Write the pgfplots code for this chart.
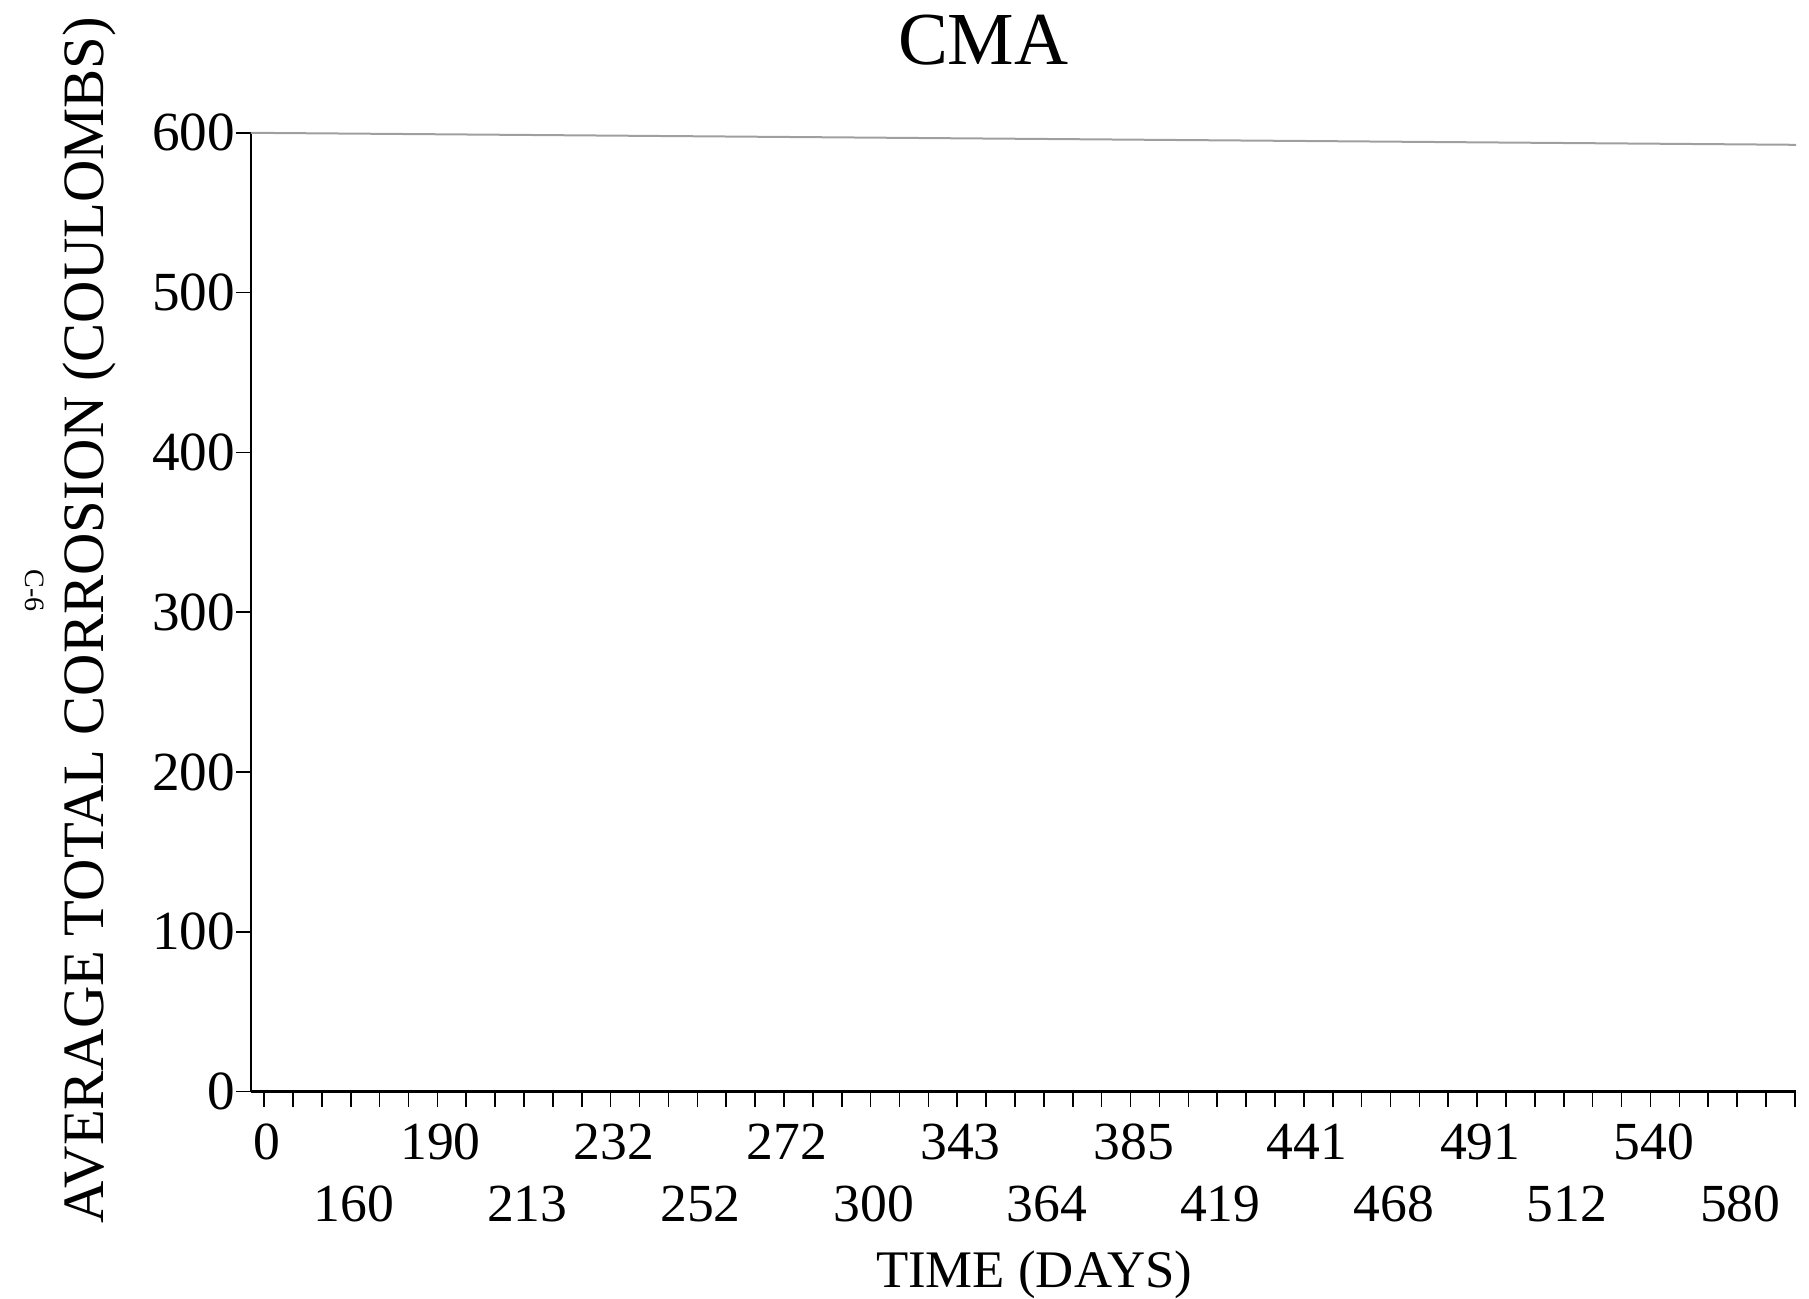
\documentclass[border=0pt]{standalone}
\usepackage{pgfplots}
\pgfplotsset{compat=1.18}
\usepackage{fontspec}
\setmainfont{Liberation Serif}
\begin{document}
\begin{tikzpicture}
\begin{axis}[
  at={(62.7pt,51.6pt)}, anchor=south west,
  scale only axis, width=386.3pt, height=239.7pt,
  xmin=-0.153, xmax=17.68, ymin=0, ymax=600,
  clip=false,
  axis lines=left,
  x axis line style={-, line width=0.8pt},
  y axis line style={-, line width=0.4pt},
  tick align=outside, major tick length=3.75pt, minor tick length=3.75pt,
  tick style={black, line width=0.4pt},
  xtick pos=bottom, ytick pos=left,
  xtick={0,2,...,16},
  xticklabels={0,190,232,272,343,385,441,491,540},
  extra x ticks={1,3,...,17},
  extra x tick labels={160,213,252,300,364,419,468,512,580},
  extra x tick style={xticklabel style={yshift=-15.5pt}},
  minor xtick={0.3333,0.6667,1.3333,1.6667,2.3333,2.6667,3.3333,3.6667,4.3333,4.6667,5.3333,5.6667,6.3333,6.6667,7.3333,7.6667,8.3333,8.6667,9.3333,9.6667,10.3333,10.6667,11.3333,11.6667,12.3333,12.6667,13.3333,13.6667,14.3333,14.6667,15.3333,15.6667,16.3333,16.6667,17.3333,17.6667},
  ytick={0,100,...,600},
  /pgf/number format/assume math mode=true,
  xticklabel style={font=\fontsize{13.4}{15}\selectfont, anchor=north, inner sep=0pt, yshift=-4.2pt, xshift=0.8pt},
  yticklabel style={font=\fontsize{13.8}{16}\selectfont, anchor=east, inner sep=0pt, xshift=0pt},
  title={CMA},
  title style={at={(axis description cs:0.474,1)}, anchor=base, yshift=11.2pt, inner sep=0pt, font=\fontsize{18.7}{22}\selectfont},
  xlabel={TIME (DAYS)},
  xlabel style={at={(axis description cs:0.507,0)}, anchor=base, yshift=-48.9pt, inner sep=0pt, font=\fontsize{13.2}{15}\selectfont},
  ylabel={AVERAGE TOTAL CORROSION (COULOMBS)},
  ylabel style={at={(axis description cs:-0.0955,0.4918)}, anchor=base, inner sep=0pt, font=\fontsize{14.65}{17}\selectfont},
]
\addplot[gray!75, line width=0.5pt] coordinates {(-0.153,600) (17.68,592.5)};
\end{axis}
\node[rotate=-90, inner sep=0pt, font=\fontsize{7}{8}\selectfont] at (8.65pt,176.75pt) {C-6};
\pgfresetboundingbox
\path (0,0) rectangle (452.25pt,324.5pt);
\end{tikzpicture}
\end{document}
